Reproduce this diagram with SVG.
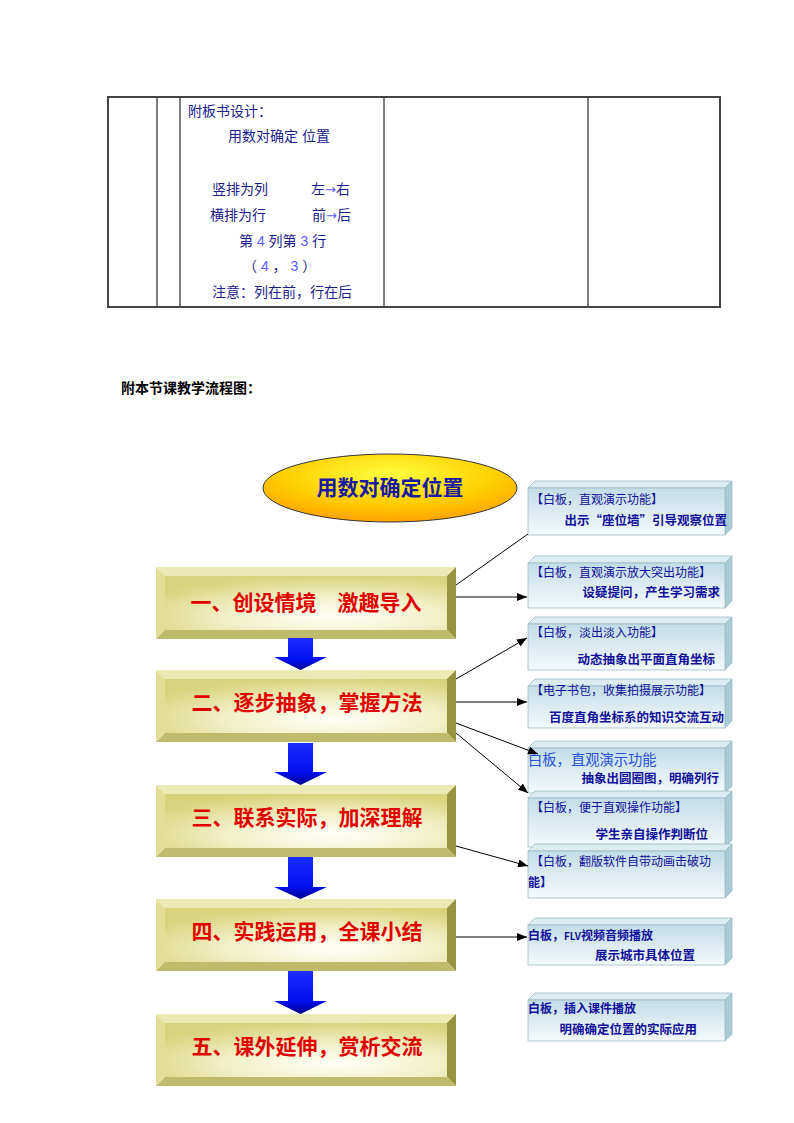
<svg xmlns="http://www.w3.org/2000/svg" width="794" height="1123" viewBox="0 0 794 1123">
<defs>
<style>
.tb{fill:none;stroke:#444;stroke-width:2}
.tl{stroke:#000;stroke-width:1}
.tt{font-family:"Liberation Sans","Noto Sans CJK SC",sans-serif;font-size:14px;fill:#1c1c8c}
.ar{fill:#5a5aff}
.aw{fill:#5a5aff;font-family:"DejaVu Sans",sans-serif;font-size:13px}
.h{font-family:"Liberation Sans","Noto Sans CJK SC",sans-serif;font-size:14px;font-weight:bold;fill:#000}
.st{font-family:"Noto Sans CJK SC",sans-serif;font-size:21px;font-weight:bold;fill:#e00000;text-anchor:middle}
.bt{fill:#eceab4}
.bl{fill:#e2de98}
.br{fill:#96943e}
.bb{fill:#bebb6c}
.face{fill:url(#gFace)}
.rf{fill:url(#gRB);stroke:#9cbcc6;stroke-width:0.8}
.rt{fill:#dcedf2;stroke:#9cbcc6;stroke-width:0.8}
.rs{fill:#a9cbd4;stroke:#9cbcc6;stroke-width:0.8}
.r1{font-family:"Noto Sans CJK SC",sans-serif;font-size:12px;fill:#10109a}
.r2{font-family:"Noto Sans CJK SC",sans-serif;font-size:12.5px;font-weight:bold;fill:#10109a;text-anchor:end}
.cn{stroke:#000;stroke-width:1;fill:none}
.ba{fill:url(#gArrow)}
</style>
<radialGradient id="gEll" cx="0.5" cy="0.3" r="0.75">
<stop offset="0" stop-color="#ffff40"/>
<stop offset="0.55" stop-color="#ffd000"/>
<stop offset="1" stop-color="#ff9a00"/>
</radialGradient>
<radialGradient id="gFace" cx="0.6" cy="0.75" r="0.75">
<stop offset="0" stop-color="#fffff8"/>
<stop offset="0.5" stop-color="#f2f0c8"/>
<stop offset="1" stop-color="#d8d47e"/>
</radialGradient>
<linearGradient id="gRB" x1="0" y1="0" x2="0" y2="1">
<stop offset="0" stop-color="#c2dde7"/>
<stop offset="1" stop-color="#f4fafc"/>
</linearGradient>
<linearGradient id="gArrow" x1="0" y1="0" x2="0" y2="1">
<stop offset="0" stop-color="#1a2cff"/>
<stop offset="0.7" stop-color="#0010ee"/>
<stop offset="1" stop-color="#000090"/>
</linearGradient>
<marker id="mk" markerWidth="10" markerHeight="8" refX="10" refY="4" orient="auto" markerUnits="userSpaceOnUse">
<path d="M0,0 L10,4 L0,8 z" fill="#000"/>
</marker>
</defs>
<rect width="794" height="1123" fill="#fff"/>

<g id="table">
<line class="tl" x1="157" y1="97" x2="157" y2="307"/>
<line class="tl" x1="180" y1="97" x2="180" y2="307"/>
<line class="tl" x1="384" y1="97" x2="384" y2="307"/>
<line class="tl" x1="588" y1="97" x2="588" y2="307"/>
<rect class="tb" x="108" y="97" width="612" height="210"/>
<text class="tt" x="188" y="116" font-size="13">附板书设计：</text>
<text class="tt" x="228" y="141">用数对确定 位置</text>
<text class="tt" x="212" y="194">竖排为列</text>
<text class="tt" x="311" y="194">左<tspan class="aw">→</tspan>右</text>
<text class="tt" x="210" y="220">横排为行</text>
<text class="tt" x="312" y="220">前<tspan class="aw">→</tspan>后</text>
<text class="tt" x="239" y="246">第 <tspan class="ar">4</tspan> 列第 <tspan class="ar">3</tspan> 行</text>
<text class="tt" x="243" y="271">（ <tspan class="ar">4</tspan>  ，  <tspan class="ar">3</tspan> ）</text>
<text class="tt" x="212" y="297">注意：列在前，行在后</text>
</g>

<text class="h" x="121" y="393">附本节课教学流程图：</text>

<g id="title">
<ellipse cx="390" cy="488" rx="127" ry="34" fill="url(#gEll)" stroke="#333" stroke-width="1"/>
<text x="390" y="495" font-family="Noto Sans CJK SC,sans-serif" font-size="21" font-weight="bold" fill="#1a1aa0" text-anchor="middle">用数对确定位置</text>
</g>

<g id="step1" transform="translate(156,567)">
<polygon class="bt" points="0,0 300,0 291,9 9,9"/>
<polygon class="bl" points="0,0 9,9 9,63 0,72"/>
<polygon class="br" points="300,0 300,72 291,63 291,9"/>
<polygon class="bb" points="0,72 9,63 291,63 300,72"/>
<rect class="face" x="9" y="9" width="282" height="54"/>
<text class="st" x="150" y="43" font-size="19.5">一、创设情境　激趣导入</text>
</g>
<g id="step2" transform="translate(156,670)">
<polygon class="bt" points="0,0 300,0 291,9 9,9"/>
<polygon class="bl" points="0,0 9,9 9,63 0,72"/>
<polygon class="br" points="300,0 300,72 291,63 291,9"/>
<polygon class="bb" points="0,72 9,63 291,63 300,72"/>
<rect class="face" x="9" y="9" width="282" height="54"/>
<text class="st" x="151" y="40">二、逐步抽象，掌握方法</text>
</g>
<g id="step3" transform="translate(156,785)">
<polygon class="bt" points="0,0 300,0 291,9 9,9"/>
<polygon class="bl" points="0,0 9,9 9,63 0,72"/>
<polygon class="br" points="300,0 300,72 291,63 291,9"/>
<polygon class="bb" points="0,72 9,63 291,63 300,72"/>
<rect class="face" x="9" y="9" width="282" height="54"/>
<text class="st" x="151" y="40">三、联系实际，加深理解</text>
</g>
<g id="step4" transform="translate(156,899)">
<polygon class="bt" points="0,0 300,0 291,9 9,9"/>
<polygon class="bl" points="0,0 9,9 9,63 0,72"/>
<polygon class="br" points="300,0 300,72 291,63 291,9"/>
<polygon class="bb" points="0,72 9,63 291,63 300,72"/>
<rect class="face" x="9" y="9" width="282" height="54"/>
<text class="st" x="151" y="40">四、实践运用，全课小结</text>
</g>
<g id="step5" transform="translate(156,1014)">
<polygon class="bt" points="0,0 300,0 291,9 9,9"/>
<polygon class="bl" points="0,0 9,9 9,63 0,72"/>
<polygon class="br" points="300,0 300,72 291,63 291,9"/>
<polygon class="bb" points="0,72 9,63 291,63 300,72"/>
<rect class="face" x="9" y="9" width="282" height="54"/>
<text class="st" x="151" y="40">五、课外延伸，赏析交流</text>
</g>

<g id="noteA">
<polygon class="rt" points="528,488 535,481 732,481 725,488"/>
<polygon class="rs" points="725,488 732,481 732,528 725,535"/>
<rect class="rf" x="528" y="488" width="197" height="47"/>
<text class="r1" x="531" y="504">【白板，直观演示功能】</text>
<text class="r2" x="727" y="525" font-size="13.5">出示“座位墙”引导观察位置</text>
</g>
<g id="noteB">
<polygon class="rt" points="528,563 535,556 732,556 725,563"/>
<polygon class="rs" points="725,563 732,556 732,601 725,608"/>
<rect class="rf" x="528" y="563" width="197" height="45"/>
<text class="r1" x="531" y="577">【白板，直观演示放大突出功能】</text>
<text class="r2" x="720" y="597">设疑提问，产生学习需求</text>
</g>
<g id="noteC">
<polygon class="rt" points="528,624 535,617 732,617 725,624"/>
<polygon class="rs" points="725,624 732,617 732,663 725,670"/>
<rect class="rf" x="528" y="624" width="197" height="46"/>
<text class="r1" x="531" y="637">【白板，淡出淡入功能】</text>
<text class="r2" x="715" y="664">动态抽象出平面直角坐标</text>
</g>
<g id="noteD">
<polygon class="rt" points="528,686 535,679 732,679 725,686"/>
<polygon class="rs" points="725,686 732,679 732,721 725,728"/>
<rect class="rf" x="528" y="686" width="197" height="42"/>
<text class="r1" x="531" y="695">【电子书包，收集拍摄展示功能】</text>
<text class="r2" x="724" y="722">百度直角坐标系的知识交流互动</text>
</g>
<g id="noteE">
<polygon class="rt" points="528,748 535,741 732,741 725,748"/>
<polygon class="rs" points="725,748 732,741 732,786 725,793"/>
<rect class="rf" x="528" y="748" width="197" height="45"/>
<text x="528" y="765" font-family="Noto Sans CJK SC,sans-serif" font-size="14.3" fill="#2a50d8">白板，直观演示功能</text>
<text class="r2" x="719" y="783" fill="#2a50d8" font-size="12">抽象出圆圈图，明确列行</text>
</g>
<g id="noteF">
<polygon class="rt" points="528,798 535,791 732,791 725,798"/>
<polygon class="rs" points="725,798 732,791 732,840 725,847"/>
<rect class="rf" x="528" y="798" width="197" height="49"/>
<text class="r1" x="531" y="812">【白板，便于直观操作功能】</text>
<text class="r2" x="708" y="839">学生亲自操作判断位</text>
</g>
<g id="noteG">
<polygon class="rt" points="528,851 535,844 732,844 725,851"/>
<polygon class="rs" points="725,851 732,844 732,891 725,898"/>
<rect class="rf" x="528" y="851" width="197" height="47"/>
<text class="r1" x="531" y="866">【白板，翻版软件自带动画击破功</text>
<text class="r1" x="528" y="887" font-weight="bold">能】</text>
</g>
<g id="noteH">
<polygon class="rt" points="528,925 535,918 732,918 725,925"/>
<polygon class="rs" points="725,925 732,918 732,958 725,965"/>
<rect class="rf" x="528" y="925" width="197" height="40"/>
<text class="r1" x="528" y="940" font-weight="bold">白板，<tspan font-size="10">FLV</tspan>视频音频播放</text>
<text class="r2" x="695" y="960">展示城市具体位置</text>
</g>
<g id="noteI">
<polygon class="rt" points="528,1000 535,993 732,993 725,1000"/>
<polygon class="rs" points="725,1000 732,993 732,1034 725,1041"/>
<rect class="rf" x="528" y="1000" width="197" height="41"/>
<text class="r1" x="528" y="1013" font-weight="bold">白板，插入课件播放</text>
<text class="r2" x="697" y="1034">明确确定位置的实际应用</text>
</g>

<g id="connectors">
<path class="ba" d="M288,638 H313 V657 H327 L300.5,670 L274,657 H288 Z"/>
<path class="ba" d="M288,743 H313 V772 H327 L300.5,785 L274,772 H288 Z"/>
<path class="ba" d="M288,857 H313 V887 H327 L300.5,899 L274,887 H288 Z"/>
<path class="ba" d="M288,971 H313 V1001 H327 L300.5,1014 L274,1001 H288 Z"/>
<line class="cn" x1="456" y1="585" x2="528" y2="534"/>
<line class="cn" x1="456" y1="597" x2="527" y2="597" marker-end="url(#mk)"/>
<line class="cn" x1="456" y1="679" x2="527" y2="638" marker-end="url(#mk)"/>
<line class="cn" x1="456" y1="702" x2="527" y2="702" marker-end="url(#mk)"/>
<line class="cn" x1="456" y1="723" x2="538" y2="754" marker-end="url(#mk)"/>
<line class="cn" x1="456" y1="733" x2="528" y2="793" marker-end="url(#mk)"/>
<line class="cn" x1="456" y1="846" x2="528" y2="866" marker-end="url(#mk)"/>
<line class="cn" x1="456" y1="937" x2="527" y2="937" marker-end="url(#mk)"/>
</g>
</svg>
